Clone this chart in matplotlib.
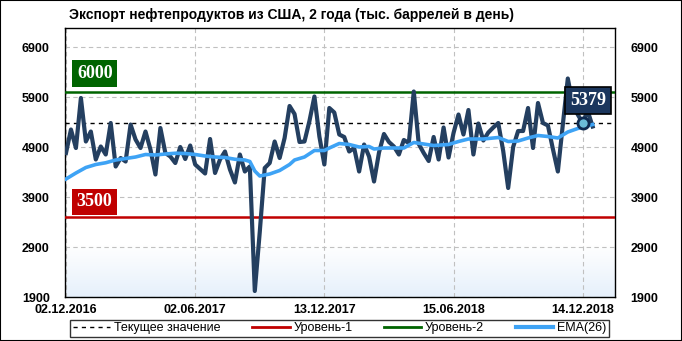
import numpy as np
import matplotlib.pyplot as plt
from matplotlib.lines import Line2D
from matplotlib.patches import Rectangle
from matplotlib.colors import LinearSegmentedColormap

# weekly exports, thousand barrels per day
exports = [4780, 5250, 4880, 5880, 5010, 5210, 4650, 4910, 4750, 5380,
           4510, 4680, 4610, 5350, 5050, 4880, 5210, 4850, 4350, 5280,
           4780, 4710, 4580, 4900, 4660, 4930, 4550, 4460, 4370, 5060,
           4380, 4650, 4810, 4450, 4190, 4750, 4410, 4510, 2020, 3200,
           4480, 4580, 5010, 4680, 5080, 5720, 5560, 5000, 5010, 5420,
           5910, 5110, 4550, 5680, 5590, 5150, 5100, 4810, 4880, 4410,
           4950, 4710, 4210, 4790, 5160, 5000, 4910, 4750, 5040, 4980,
           6010, 4960, 4780, 4620, 5100, 4650, 5290, 4690, 5180, 5550,
           5150, 5640, 4750, 5370, 5030, 5190, 5290, 5380, 4820, 4080,
           4900, 5220, 5220, 5680, 4880, 5780, 5380, 5330, 4860, 4410,
           5350, 6270, 5750, 5550, 5379, 5620, 5310]

# EMA(26) read at selected weeks
ema_idx = [0, 2, 4, 6, 8, 10, 12, 14, 16, 18, 20, 22, 24, 26, 28, 30, 32, 34,
           36, 37, 38, 39, 41, 43, 45, 46, 48, 50, 52, 53, 55, 57, 59, 61, 62,
           64, 66, 68, 70, 72, 74, 77, 79, 81, 84, 87, 89, 91, 93, 95, 97, 99,
           101, 103, 106]
ema_vals = [4260, 4380, 4490, 4550, 4585, 4640, 4670, 4700, 4750, 4740, 4760,
            4775, 4770, 4750, 4720, 4700, 4690, 4655, 4640, 4610, 4420, 4320,
            4360, 4430, 4550, 4640, 4700, 4830, 4830, 4880, 4970, 4950, 4900,
            4910, 4860, 4880, 4880, 4880, 4990, 4960, 4930, 4950, 5010, 5060,
            5060, 5090, 5010, 5020, 5080, 5130, 5110, 5080, 5200, 5270, 5350]

current_value = 5379
current_idx = 104
level_1 = 3500
level_2 = 6000

date_idx = [0, 26, 52, 78, 104]
date_labels = ["02.12.2016", "02.06.2017", "13.12.2017", "15.06.2018", "14.12.2018"]
y_ticks = [1900, 2900, 3900, 4900, 5900, 6900]

title = "Экспорт нефтепродуктов из США, 2 года (тыс. баррелей в день)"

plt.rcParams['font.family'] = ['Liberation Sans', 'DejaVu Sans']

fig = plt.figure(figsize=(6.82, 3.41), dpi=100)
ax = fig.add_axes([65 / 682, 44 / 341, 550 / 682, 269 / 341])

# light blue fade at the bottom of the plot area
cmap = LinearSegmentedColormap.from_list("fade", ["#E6F0FB", "#FFFFFF"])
grad = np.linspace(0, 1, 100).reshape(-1, 1)
ax.imshow(grad, extent=[0, 1, 0, 0.19], transform=ax.transAxes, aspect='auto',
          cmap=cmap, origin='lower', zorder=0)

x = np.arange(len(exports))
ax.plot(x, exports, color='#243F60', lw=3.0, zorder=4, solid_joinstyle='round')
ax.plot(ema_idx, ema_vals, color='#3EA3F5', lw=2.6, zorder=5)
ax.axhline(level_2, color='#006400', lw=1.8, zorder=3)
ax.axhline(level_1, color='#C00000', lw=1.8, zorder=3)
ax.axhline(current_value, color='black', lw=1, ls=(0, (3, 3)), zorder=3)
ax.plot(current_idx, current_value, 'o', ms=8, mfc='#6BBCD8', mec='#0F2A50',
        mew=2, zorder=6)

box_font = dict(family=['Liberation Serif', 'DejaVu Serif'], fontsize=13,
                fontweight='bold', color='white', ha='center', va='center', zorder=7)
ax.text(5.8, 6370, str(level_2), bbox=dict(boxstyle='square,pad=0.25', fc='#006400', ec='none'), **box_font)
ax.text(5.7, 3800, str(level_1), bbox=dict(boxstyle='square,pad=0.25', fc='#C00000', ec='none'), **box_font)
ax.text(105.1, 5830, str(current_value), bbox=dict(boxstyle='square,pad=0.28', fc='#1B365D', ec='black', lw=1.2), **box_font)

ax.set_xlim(-0.2, 110.5)
ax.set_ylim(1900, 7280)
ax.set_xticks(date_idx)
ax.set_xticklabels(date_labels)
ax.set_yticks(y_ticks)
ax.tick_params(axis='both', length=0, labelsize=9)
ax.tick_params(axis='y', labelright=True, pad=11)
ax.tick_params(axis='x', pad=5)
for lab in ax.get_xticklabels() + ax.get_yticklabels():
    lab.set_fontweight('bold')
ax.grid(True, ls=(0, (4, 3)), color='#C0C0C0', lw=0.8, zorder=1)
for sp in ax.spines.values():
    sp.set_color('black')
    sp.set_linewidth(1)

fig.text(69 / 682, 1 - 15 / 341, title, fontsize=10, fontweight='bold', va='center')

handles = [Line2D([], [], color='black', lw=1, ls=(0, (3, 3))),
           Line2D([], [], color='#C00000', lw=2),
           Line2D([], [], color='#006400', lw=2),
           Line2D([], [], color='#3EA3F5', lw=3)]
labels = ["Текущее значение", "Уровень-1", "Уровень-2", "EMA(26)"]
leg = fig.legend(handles, labels, loc='center', ncol=4, mode='expand',
                 bbox_to_anchor=(64 / 682, 1 - 336 / 341, 551 / 682, 15 / 341),
                 frameon=True, fancybox=False, edgecolor='black', fontsize=9,
                 handlelength=3, handletextpad=0.3, borderpad=0.2)
leg.get_frame().set_linewidth(1)

fig.patches.append(Rectangle((0, 0), 1, 1, transform=fig.transFigure,
                             fill=False, ec='black', lw=1.5))

fig.savefig("out.png", dpi=100)
